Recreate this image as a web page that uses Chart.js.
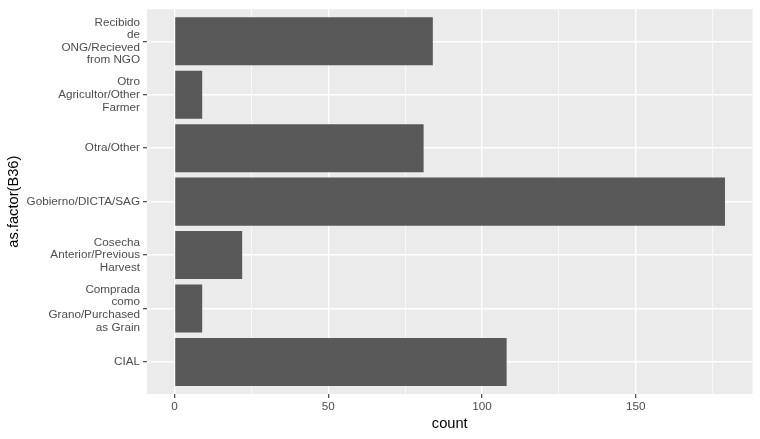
<!DOCTYPE html>
<html>
<head>
<meta charset="utf-8">
<script src="https://cdn.jsdelivr.net/npm/chart.js@4.4.1/dist/chart.umd.min.js"></script>
<style>
  html, body { margin: 0; padding: 0; background: #fff; }
  #wrap { width: 760px; height: 439px; }
</style>
</head>
<body>
<div id="wrap"><canvas id="grafik"></canvas></div>
<script>
// data (top to bottom)
const categories = [
    ['Recibido', 'de', 'ONG/Recieved', 'from NGO'],
    ['Otro', 'Agricultor/Other', 'Farmer'],
    ['Otra/Other'],
    ['Gobierno/DICTA/SAG'],
    ['Cosecha', 'Anterior/Previous', 'Harvest'],
    ['Comprada', 'como', 'Grano/Purchased', 'as Grain'],
    ['CIAL']
];
const counts = [84, 9, 81, 179, 22, 9, 108];
const xMajor = [0, 50, 100, 150];
const xMinor = [25, 75, 125, 175];

const maxCount = Math.max(...counts);
const font = '"Liberation Sans", Arial, sans-serif';

// grey panel behind the grid, like theme_grey
const panelBg = {
    id: 'panelBg',
    beforeDraw(chart) {
        const a = chart.chartArea;
        const c = chart.ctx;
        c.save();
        c.fillStyle = '#EBEBEB';
        c.fillRect(a.left, a.top, a.right - a.left, a.bottom - a.top);
        c.restore();
    }
};

const ctx = document.getElementById('grafik').getContext('2d');
const grafik = new Chart(ctx, {
    type: 'bar',
    data: {
        datasets: [{
            label: 'count',
            data: counts.map((v, i) => ({ x: v, y: i + 1 })),
            backgroundColor: '#595959',
            borderWidth: 0,
            barPercentage: 0.9,
            categoryPercentage: 1
        }]
    },
    options: {
        indexAxis: 'y',
        responsive: true,
        maintainAspectRatio: false,
        animation: false,
        layout: {
            padding: { left: 0, top: 7, right: 7.5, bottom: 0 }
        },
        plugins: {
            legend: { display: false },
            tooltip: { enabled: false }
        },
        scales: {
            x: {
                type: 'linear',
                min: -0.05 * maxCount,
                max: 1.05 * maxCount,
                afterBuildTicks: (scale) => {
                    scale.ticks = xMajor.concat(xMinor).sort((a, b) => a - b).map(v => ({ value: v }));
                },
                afterFit: (scale) => { scale.height = 45; },
                ticks: {
                    autoSkip: false,
                    maxRotation: 0,
                    padding: 1.5,
                    color: '#4D4D4D',
                    font: { family: font, size: 11.7 },
                    callback: (v) => xMajor.includes(v) ? String(v) : ''
                },
                grid: {
                    color: '#FFFFFF',
                    lineWidth: (c) => xMajor.includes(c.tick.value) ? 1.4 : 0.7,
                    tickLength: 4,
                    tickColor: (c) => xMajor.includes(c.tick.value) ? '#333333' : 'rgba(0,0,0,0)',
                    tickWidth: 1.1
                },
                border: { display: false },
                title: {
                    display: true,
                    text: 'count',
                    color: '#000000',
                    font: { family: font, size: 14.67 },
                    padding: { top: 0, bottom: 6 }
                }
            },
            y: {
                type: 'linear',
                reverse: true,
                offset: false,
                min: 0.4,
                max: categories.length + 0.6,
                afterBuildTicks: (scale) => {
                    scale.ticks = categories.map((c, i) => ({ value: i + 1 }));
                },
                afterFit: (scale) => { scale.width = 147; },
                ticks: {
                    autoSkip: false,
                    padding: 3,
                    color: '#4D4D4D',
                    font: { family: font, size: 11.7, lineHeight: 1.07 },
                    callback: (v) => categories[v - 1]
                },
                grid: {
                    offset: false,
                    color: '#FFFFFF',
                    lineWidth: 1.4,
                    tickLength: 4,
                    tickColor: '#333333',
                    tickWidth: 1.1
                },
                border: { display: false },
                title: {
                    display: true,
                    text: 'as.factor(B36)',
                    color: '#000000',
                    font: { family: font, size: 14.67 },
                    padding: { top: 5, bottom: 0 }
                }
            }
        }
    },
    plugins: [panelBg]
});
</script>
</body>
</html>
